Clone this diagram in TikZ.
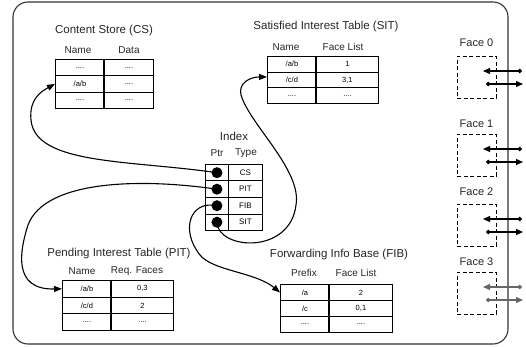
\documentclass[tikz,border=0pt]{standalone}
\usepackage{fontspec}
\setmainfont{Liberation Sans}
\usetikzlibrary{arrows.meta}

\begin{document}
\begin{tikzpicture}[x=1pt,y=-1pt,
  title/.style={font=\fontsize{11.5}{13}\selectfont, inner sep=0, text=black!85},
  head/.style={font=\fontsize{10}{12}\selectfont, inner sep=0, text=black!85},
  cell/.style 2 args={draw, line width=0.9pt, anchor=north west, inner sep=0,
    minimum width=#1, minimum height=#2, font=\fontsize{7.5}{9}\selectfont},
  divider/.style={line width=1.7pt},
  ptr/.style={circle, fill, inner sep=0, minimum size=11pt},
  link/.style={line width=1.1pt, -{Triangle[length=8pt,width=6pt]}},
  facebox/.style={draw, line width=0.8pt, dash pattern=on 4pt off 2.5pt,
    anchor=north west, inner sep=0, minimum width=39pt, minimum height=42pt},
  facelbl/.style={font=\fontsize{11}{13}\selectfont, inner sep=0, text=black!85},
  port/.style={line width=1.1pt, {Circle[length=4.5pt]}-{Triangle[length=7pt,width=6pt]}}
]
\useasboundingbox (0,0) rectangle (526,347);

% router frame
\node[draw, line width=1.1pt, black!80, rounded corners=15pt,
  minimum width=495pt, minimum height=342pt, inner sep=0] (router) at (260.5,173) {};

% ---------- Content Store ----------
\node[title] (cst) at (104,31) {Content Store (CS)};
\node[head] (csh1) at (78,50) {Name};
\node[head] (csh2) at (129,50) {Data};
\node[cell={49pt}{16.33pt}] (cs11) at (55,59) {....};
\node[cell={49pt}{16.33pt}] (cs12) at (104,59) {....};
\node[cell={49pt}{16.33pt}] (cs21) at (55,75.33) {/a/b};
\node[cell={49pt}{16.33pt}] (cs22) at (104,75.33) {....};
\node[cell={49pt}{16.33pt}] (cs31) at (55,91.67) {....};
\node[cell={49pt}{16.33pt}] (cs32) at (104,91.67) {....};
\draw[divider] (cs12.north west) -- (cs32.south west);

% ---------- Satisfied Interest Table ----------
\node[title] (sitt) at (326,27) {Satisfied Interest Table (SIT)};
\node[head] (sith1) at (286,47) {Name};
\node[head] (sith2) at (343,47) {Face List};
\node[cell={49pt}{15.67pt}] (sit11) at (267,56) {/a/b};
\node[cell={62pt}{15.67pt}] (sit12) at (316,56) {1};
\node[cell={49pt}{15.67pt}] (sit21) at (267,71.67) {/c/d};
\node[cell={62pt}{15.67pt}] (sit22) at (316,71.67) {3,1};
\node[cell={49pt}{15.67pt}] (sit31) at (267,87.33) {....};
\node[cell={62pt}{15.67pt}] (sit32) at (316,87.33) {....};
\draw[divider] (sit12.north west) -- (sit32.south west);

% ---------- Pending Interest Table ----------
\node[title] (pitt) at (119,254) {Pending Interest Table (PIT)};
\node[head] (pith1) at (82,271) {Name};
\node[head] (pith2) at (137,271) {Req. Faces};
\node[cell={49pt}{16.67pt}] (pit11) at (62,280) {/a/b};
\node[cell={62pt}{16.67pt}] (pit12) at (111,280) {0,3};
\node[cell={49pt}{16.67pt}] (pit21) at (62,296.67) {/c/d};
\node[cell={62pt}{16.67pt}] (pit22) at (111,296.67) {2};
\node[cell={49pt}{16.67pt}] (pit31) at (62,313.33) {....};
\node[cell={62pt}{16.67pt}] (pit32) at (111,313.33) {....};
\draw[divider] (pit12.north west) -- (pit32.south west);

% ---------- Forwarding Info Base ----------
\node[title] (fibt) at (339,255) {Forwarding Info Base (FIB)};
\node[head] (fibh1) at (304,273) {Prefix};
\node[head] (fibh2) at (356,273) {Face List};
\node[cell={49pt}{16pt}] (fib11) at (280,284) {/a};
\node[cell={63pt}{16pt}] (fib12) at (329,284) {2};
\node[cell={49pt}{16pt}] (fib21) at (280,300) {/c};
\node[cell={63pt}{16pt}] (fib22) at (329,300) {0,1};
\node[cell={49pt}{16pt}] (fib31) at (280,316) {....};
\node[cell={63pt}{16pt}] (fib32) at (329,316) {....};
\draw[divider] (fib12.north west) -- (fib32.south west);

% ---------- Index ----------
\node[title] (idxt) at (234,136) {Index};
\node[head] (idxh1) at (217,153) {Ptr};
\node[head] (idxh2) at (246,153) {Type};
\node[cell={23pt}{16.5pt}] (ix11) at (205,164) {};
\node[cell={34pt}{16.5pt}, font=\fontsize{8}{10}\selectfont] (ix12) at (228,164) {CS};
\node[cell={23pt}{16.5pt}] (ix21) at (205,180.5) {};
\node[cell={34pt}{16.5pt}, font=\fontsize{8}{10}\selectfont] (ix22) at (228,180.5) {PIT};
\node[cell={23pt}{16.5pt}] (ix31) at (205,197) {};
\node[cell={34pt}{16.5pt}, font=\fontsize{8}{10}\selectfont] (ix32) at (228,197) {FIB};
\node[cell={23pt}{16.5pt}] (ix41) at (205,213.5) {};
\node[cell={34pt}{16.5pt}, font=\fontsize{8}{10}\selectfont] (ix42) at (228,213.5) {SIT};

% pointers from the index into the tables
\draw[link] (ix11.center) .. controls (130,160) and (35,165) .. (31,120)
  .. controls (29,100) and (40,92) .. (cs21.west);
\draw[link] (ix21.center) .. controls (140,178) and (45,180) .. (28,225)
  .. controls (20,250) and (12,290) .. (pit11.west);
\draw[link] (ix31.center) .. controls (190,200) and (180,230) .. (200,255)
  .. controls (213,271) and (255,272) .. (fib11.west);
\draw[link] (ix41.center) .. controls (218,250) and (290,255) .. (296,205)
  .. controls (302,170) and (250,125) .. (241,95)
  .. controls (238,83) and (250,77) .. ([yshift=3pt]sit21.west);

\node[ptr] (dcs) at (ix11.center) {};
\node[ptr] (dpit) at (ix21.center) {};
\node[ptr] (dfib) at (ix31.center) {};
\node[ptr] (dsit) at (ix41.center) {};

% ---------- Faces ----------
\foreach \i/\top/\ly/\col in {0/56/43/black, 1/134/124/black, 2/204/192/black, 3/272/262/black!60} {
  \node[facebox] (face\i) at (457,\top) {};
  \node[facelbl] (facelbl\i) at (476.5,\ly) {Face \i};
  \coordinate (inA\i) at (522,\top+15);
  \coordinate (inB\i) at (483,\top+15);
  \coordinate (outA\i) at (486,\top+28);
  \coordinate (outB\i) at (523,\top+28);
  \draw[port, draw=\col, fill=\col] (inA\i) -- (inB\i);
  \draw[port, draw=\col, fill=\col] (outA\i) -- (outB\i);
}
\end{tikzpicture}
\end{document}
